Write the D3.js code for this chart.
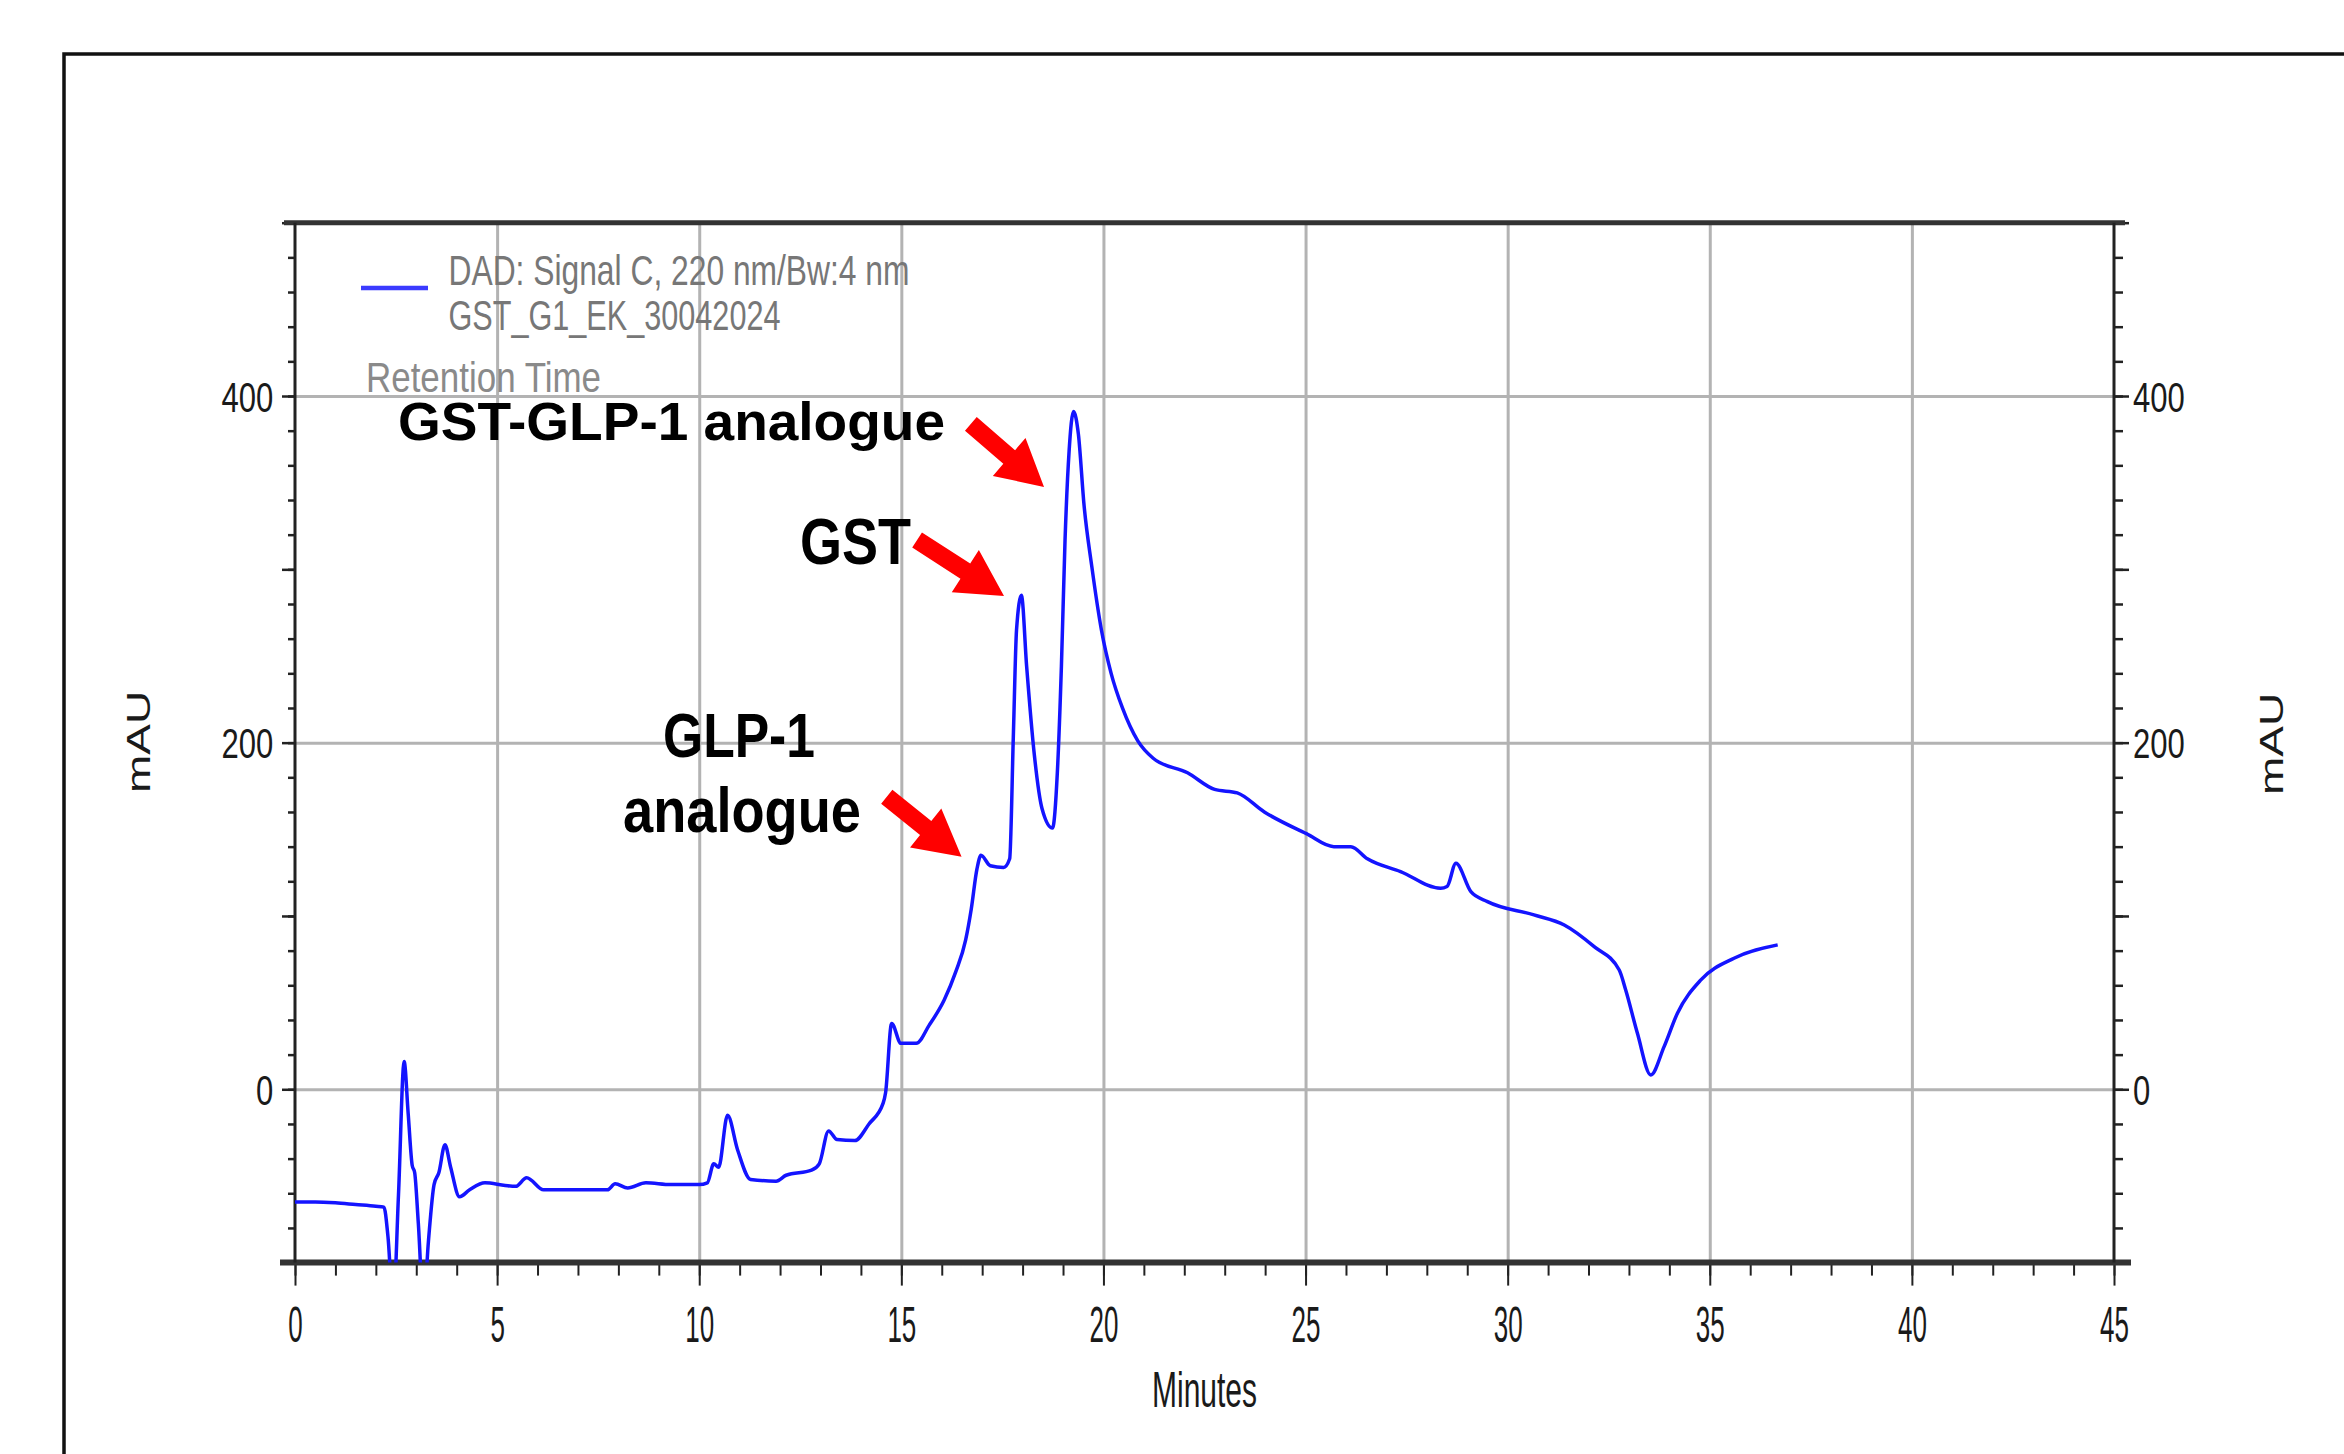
<!DOCTYPE html>
<html><head><meta charset="utf-8">
<script src="https://cdn.jsdelivr.net/npm/d3@7"></script>
<style>html,body{margin:0;padding:0;background:#fff;} svg{display:block;}</style>
</head><body>
<svg id="chart" width="2344" height="1454"></svg>
<script>
// ---- data ----
const timeMin = [0, 0.5, 1.0, 1.5, 2.0, 2.2, 2.3, 2.43, 2.56, 2.7, 2.8, 2.9, 2.96, 3.05, 3.18, 3.3, 3.44, 3.56, 3.71, 3.85, 4.07, 4.32, 4.7, 5.2, 5.46, 5.73, 6.15, 7.0, 7.73, 7.92, 8.23, 8.68, 9.3, 10.0, 10.2, 10.36, 10.48, 10.7, 10.95, 11.27, 11.9, 12.15, 12.78, 12.97, 13.2, 13.41, 13.85, 14.2, 14.55, 14.61, 14.76, 14.99, 15.37, 15.69, 16.06, 16.35, 16.59, 16.73, 16.87, 16.97, 17.2, 17.53, 17.68, 17.77, 17.85, 17.97, 18.1, 18.29, 18.48, 18.74, 18.86, 18.96, 19.05, 19.15, 19.26, 19.38, 19.52, 19.71, 19.95, 20.19, 20.47, 20.85, 21.23, 22.08, 22.75, 23.31, 23.98, 25.02, 25.7, 26.12, 26.53, 27.35, 28.34, 28.5, 28.72, 29.09, 29.5, 30.65, 31.4, 32.14, 32.76, 32.92, 33.21, 33.54, 33.87, 34.2, 34.78, 35.6, 36.68];
const signalMAU = [-65, -65, -65.5, -66.5, -67.5, -68, -85, -125, -61, 16, -14, -44, -48, -77, -125, -88, -55, -48, -32, -45, -62, -58, -54, -55.5, -56, -51, -58, -58, -58, -54.5, -57, -54, -55, -55, -54, -43, -45, -15, -35, -52, -53, -49.6, -46.7, -43, -24, -29, -29.6, -20, -8, -2, 38, 26.5, 26.5, 37, 51.5, 68, 86, 104, 127, 135, 129, 128, 133, 203, 265, 285, 244, 193, 162, 150.7, 183, 244, 317, 368, 391, 378, 337, 302, 265, 240, 220, 201, 191, 182.6, 173, 171, 160, 147.5, 140, 140, 133, 125.6, 116, 117, 130.4, 114, 108.3, 100.6, 94.8, 82.3, 68.8, 57.3, 32.3, 8.3, 24.6, 43.9, 63.1, 75.6, 83.3];
const xTickLabels = [0, 5, 10, 15, 20, 25, 30, 35, 40, 45];
const yTickLabels = [0, 200, 400];
const xDomain = [0, 45];
const yDomain = [-100, 500];
const legendLines = ["DAD: Signal C, 220 nm/Bw:4 nm", "GST_G1_EK_30042024"];
const legendTitle = "Retention Time";
const xTitle = "Minutes";
const yTitle = "mAU";
const peakNames = ["GST-GLP-1 analogue", "GST", "GLP-1", "analogue"];
// arrows: tail and tip in data units [min, mAU]
const arrowTails = [[16.72, 383.9], [15.39, 316.9], [14.64, 168.8]];
const arrowTips  = [[18.53, 347.5], [17.54, 284.6], [16.49, 134.2]];

// ---- layout ----
const W = 2344, H = 1454;
const FONT = "'Liberation Sans', Arial, Helvetica, sans-serif";
const svg = d3.select("#chart");
svg.append("rect").attr("width", W).attr("height", H).attr("fill", "#fff");
// outer frame (extends beyond right/bottom)
svg.append("rect").attr("x", 64).attr("y", 54).attr("width", 2500).attr("height", 1600)
  .attr("fill", "none").attr("stroke", "#111").attr("stroke-width", 3.5);

const x = d3.scaleLinear().domain(xDomain).range([295, 2114]);
const y = d3.scaleLinear().domain(yDomain).range([1262.6, 222.7]);
const pTop = y(yDomain[1]), pBot = y(yDomain[0]), pLeft = x(xDomain[0]), pRight = x(xDomain[1]);

// gridlines
const gridV = svg.append("g").attr("transform", `translate(0,${pBot})`)
  .call(d3.axisBottom(x).tickValues(d3.range(5, 45, 5)).tickSize(-(pBot - pTop)).tickFormat(""));
gridV.select(".domain").remove();
gridV.selectAll("line").attr("stroke", "#b3b3b3").attr("stroke-width", 3);
const gridH = svg.append("g").attr("transform", `translate(${pLeft},0)`)
  .call(d3.axisLeft(y).tickValues(yTickLabels).tickSize(-(pRight - pLeft)).tickFormat(""));
gridH.select(".domain").remove();
gridH.selectAll("line").attr("stroke", "#b3b3b3").attr("stroke-width", 3);

// x axis ticks
const xMinor = svg.append("g").attr("transform", `translate(0,${pBot})`)
  .call(d3.axisBottom(x).tickValues(d3.range(0, 46, 1)).tickSize(13).tickFormat(""));
xMinor.select(".domain").remove();
xMinor.selectAll("line").attr("stroke", "#222").attr("stroke-width", 2);
const xMajor = svg.append("g").attr("transform", `translate(0,${pBot})`)
  .call(d3.axisBottom(x).tickValues(xTickLabels).tickSize(23).tickFormat(d3.format("d")));
xMajor.select(".domain").remove();
xMajor.selectAll("line").attr("stroke", "#222").attr("stroke-width", 2);
xMajor.selectAll("text").attr("y", 79).attr("dy", 0).attr("transform", "scale(0.52,1)")
  .attr("font-family", FONT).attr("font-size", 50).attr("fill", "#1a1a1a");

// y axes ticks
function yAxis(gen, xpos, majLen, minLen, labelGap, anchor) {
  const gMin = svg.append("g").attr("transform", `translate(${xpos},0)`)
    .call(gen(y).tickValues(d3.range(-100, 501, 20)).tickSize(minLen).tickFormat(""));
  gMin.select(".domain").remove();
  gMin.selectAll("line").attr("stroke", "#222").attr("stroke-width", 2.5);
  const gMaj = svg.append("g").attr("transform", `translate(${xpos},0)`)
    .call(gen(y).tickValues(d3.range(-100, 501, 100)).tickSize(majLen)
      .tickFormat(d => yTickLabels.includes(d) ? d3.format("d")(d) : ""));
  gMaj.select(".domain").remove();
  gMaj.selectAll("line").attr("stroke", "#222").attr("stroke-width", 2.5);
  gMaj.selectAll("text").attr("x", labelGap / 0.74).attr("dy", "0.36em")
    .attr("transform", "scale(0.74,1)").attr("text-anchor", anchor)
    .attr("font-family", FONT).attr("font-size", 42).attr("fill", "#1a1a1a");
}
yAxis(d3.axisLeft, pLeft, 13, 7, -21.7, "end");
yAxis(d3.axisRight, pRight, 15, 9, 19, "start");

// frame lines
const frame = svg.append("g").attr("stroke", "#333");
frame.append("line").attr("x1", pLeft - 11).attr("x2", pRight + 11).attr("y1", pTop).attr("y2", pTop).attr("stroke-width", 5);
frame.append("line").attr("x1", pLeft - 15).attr("x2", pRight + 17).attr("y1", pBot).attr("y2", pBot).attr("stroke-width", 6);
frame.append("line").attr("x1", pLeft).attr("x2", pLeft).attr("y1", pTop).attr("y2", pBot).attr("stroke-width", 3).attr("stroke", "#222");
frame.append("line").attr("x1", pRight).attr("x2", pRight).attr("y1", pTop).attr("y2", pBot).attr("stroke-width", 3).attr("stroke", "#222");

// trace
svg.append("clipPath").attr("id", "plotclip").append("rect")
  .attr("x", pLeft).attr("y", pTop).attr("width", pRight - pLeft).attr("height", pBot - pTop);
const pts = timeMin.map((t, i) => [t, signalMAU[i]]);
svg.append("path").datum(pts).attr("clip-path", "url(#plotclip)")
  .attr("fill", "none").attr("stroke", "#1414ff").attr("stroke-width", 3.5).attr("stroke-linejoin", "round")
  .attr("d", d3.line().x(d => x(d[0])).y(d => y(d[1])).curve(d3.curveMonotoneX));

// axis titles
svg.append("text").attr("x", (pLeft + pRight) / 2 / 0.6).attr("y", 1407).attr("transform", "scale(0.6,1)")
  .attr("text-anchor", "middle").attr("font-family", FONT).attr("font-size", 50).attr("fill", "#1a1a1a").text(xTitle);
[[150, 742], [2283, 744]].forEach(([px, py]) => {
  svg.append("text").attr("transform", `translate(${px},${py}) scale(0.72,1) rotate(-90)`)
    .attr("text-anchor", "middle").attr("font-family", FONT).attr("font-size", 46).attr("fill", "#1a1a1a").text(yTitle);
});

// legend
svg.append("line").attr("x1", 361).attr("x2", 428).attr("y1", 288).attr("y2", 288)
  .attr("stroke", "#3b3bff").attr("stroke-width", 4.5);
const legW = [461, 332];
legendLines.forEach((s, i) => {
  svg.append("text").attr("x", 448.5).attr("y", 285 + i * 45).attr("font-family", FONT).attr("font-size", 43)
    .attr("fill", "#777").attr("textLength", legW[i]).attr("lengthAdjust", "spacingAndGlyphs").text(s);
});
svg.append("text").attr("x", 366).attr("y", 392).attr("font-family", FONT).attr("font-size", 43)
  .attr("fill", "#8a8a8a").attr("textLength", 235).attr("lengthAdjust", "spacingAndGlyphs").text(legendTitle);

// peak annotations
const annPos = [[398, 440, 53, 547], [800, 563.5, 64, 111], [663, 756.7, 63, 152], [623, 831.7, 63, 238]];
peakNames.forEach((s, i) => {
  const [ax, ay, fs, tl] = annPos[i];
  svg.append("text").attr("x", ax).attr("y", ay).attr("font-family", FONT).attr("font-weight", "bold")
    .attr("font-size", fs).attr("fill", "#000").attr("textLength", tl).attr("lengthAdjust", "spacingAndGlyphs").text(s);
});

function arrowPath(tx, ty, px, py, w, hw, hl) {
  const dx = px - tx, dy = py - ty, L = Math.hypot(dx, dy), ux = dx / L, uy = dy / L, nx = -uy, ny = ux;
  const bx = px - ux * hl, by = py - uy * hl;
  const p = [[tx + nx * w / 2, ty + ny * w / 2], [bx + nx * w / 2, by + ny * w / 2], [bx + nx * hw / 2, by + ny * hw / 2],
    [px, py], [bx - nx * hw / 2, by - ny * hw / 2], [bx - nx * w / 2, by - ny * w / 2], [tx - nx * w / 2, ty - ny * w / 2]];
  return d3.line()(p) + "Z";
}
arrowTails.forEach((tl, i) => {
  const tp = arrowTips[i];
  svg.append("path").attr("fill", "#ff0000")
    .attr("d", arrowPath(x(tl[0]), y(tl[1]), x(tp[0]), y(tp[1]), 18, 50, 46));
});
</script>
</body></html>
